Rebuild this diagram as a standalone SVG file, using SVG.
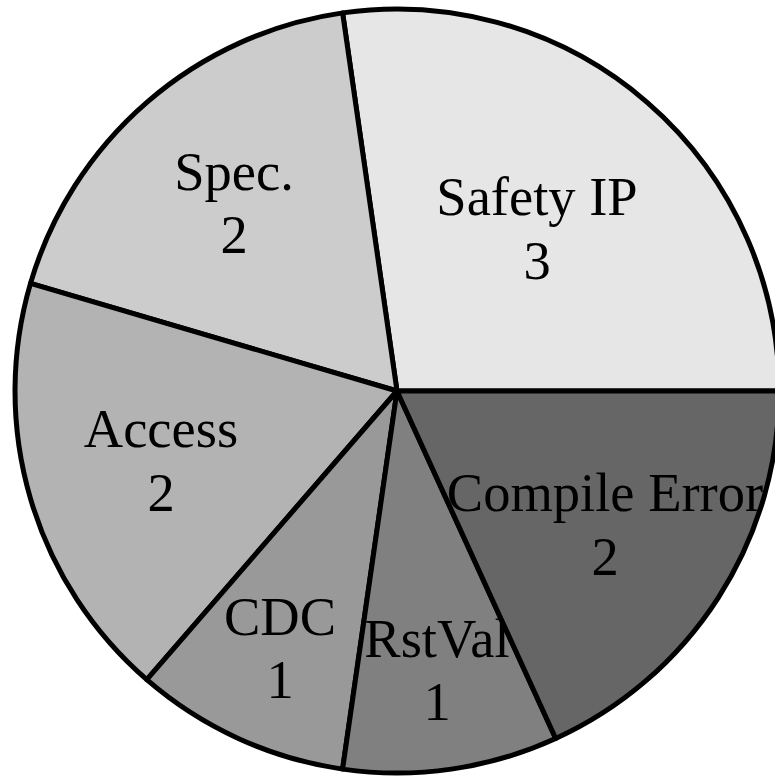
<svg xmlns="http://www.w3.org/2000/svg" width="775" height="776" viewBox="0 0 775 776">
  <style>
    .slice { stroke: #000; stroke-width: 5; stroke-linejoin: round; }
    .lbl { font-family: "Liberation Serif", "Times New Roman", serif; font-size: 54.5px; fill: #000; text-anchor: middle; }
  </style>
  <rect width="775" height="776" fill="#fff"/>
  <!-- pie centre (397,391), radius 382; slices run counter-clockwise from east -->
  <g id="slice-safety-ip">
    <path class="slice" fill="#e6e6e6" d="M397,391 L779,391 A382,382 0 0 0 342.6,12.9 Z"/>
    <text class="lbl" x="537" y="215">Safety IP</text>
    <text class="lbl" x="537" y="279">3</text>
  </g>
  <g id="slice-spec">
    <path class="slice" fill="#cccccc" d="M397,391 L342.6,12.9 A382,382 0 0 0 30.5,283.4 Z"/>
    <text class="lbl" x="234" y="190">Spec.</text>
    <text class="lbl" x="234" y="253">2</text>
  </g>
  <g id="slice-access">
    <path class="slice" fill="#b3b3b3" d="M397,391 L30.5,283.4 A382,382 0 0 0 146.8,679.7 Z"/>
    <text class="lbl" x="161" y="447">Access</text>
    <text class="lbl" x="161" y="511">2</text>
  </g>
  <g id="slice-cdc">
    <path class="slice" fill="#999999" d="M397,391 L146.8,679.7 A382,382 0 0 0 342.6,769.1 Z"/>
    <text class="lbl" x="280" y="635">CDC</text>
    <text class="lbl" x="280" y="698">1</text>
  </g>
  <g id="slice-rstval">
    <path class="slice" fill="#808080" d="M397,391 L342.6,769.1 A382,382 0 0 0 555.7,738.5 Z"/>
    <text class="lbl" x="437" y="657">RstVal</text>
    <text class="lbl" x="437" y="720">1</text>
  </g>
  <g id="slice-compile-error">
    <path class="slice" fill="#666666" d="M397,391 L555.7,738.5 A382,382 0 0 0 779,391 Z"/>
    <text class="lbl" x="605" y="511">Compile Error</text>
    <text class="lbl" x="605" y="575">2</text>
  </g>
</svg>
